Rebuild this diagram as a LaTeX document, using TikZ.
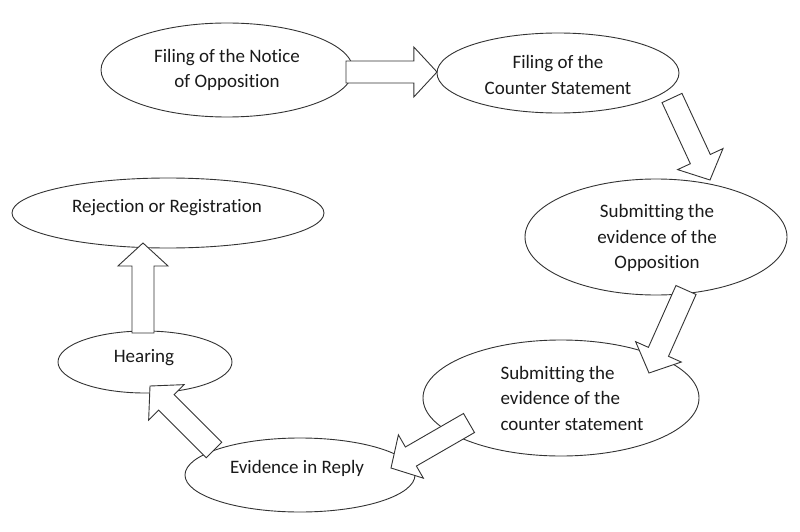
\documentclass[tikz,border=0pt]{standalone}
\usepackage{fontspec}
\setmainfont[Ligatures=NoCommon]{Carlito}
\usetikzlibrary{shapes.geometric,calc}
\definecolor{ink}{HTML}{1A1A1A}
\definecolor{edge}{HTML}{333333}
\tikzset{
  oval/.style={ellipse, draw=edge, line width=0.9pt, fill=white, inner sep=0pt},
  txt/.style={text=ink, font=\fontsize{19}{25.5}\selectfont, align=center, inner sep=0pt},
  blockarr/.style={draw=edge, line width=0.9pt, fill=white, line join=miter},
}
\newcommand\blockarrow[2]{%
  \draw[blockarr] ($(#1)!11pt!90:(#2)$)
    -- ($(#1)!0.745!(#2)!11pt!90:(#2)$)
    -- ($(#1)!0.745!(#2)!25pt!90:(#2)$)
    -- (#2)
    -- ($(#1)!0.745!(#2)!25pt!-90:(#2)$)
    -- ($(#1)!0.745!(#2)!11pt!-90:(#2)$)
    -- ($(#1)!11pt!-90:(#2)$) -- cycle;}
\begin{document}
\begin{tikzpicture}[x=1pt,y=-1pt]
\useasboundingbox[fill=white] (0,0) rectangle (800,532);
% ellipses
\node[oval, minimum width=252pt, minimum height=94pt] (e1) at (227,70) {};
\node[oval, minimum width=242pt, minimum height=80pt] (e2) at (558,73) {};
\node[oval, minimum width=262pt, minimum height=116pt] (e3) at (656,237) {};
\node[oval, minimum width=276pt, minimum height=116pt] (e4) at (561,398) {};
\node[oval, minimum width=230pt, minimum height=74pt] (e5) at (300,475) {};
\node[oval, minimum width=174pt, minimum height=62pt] (e6) at (145,362) {};
\node[oval, minimum width=312pt, minimum height=70pt] (e7) at (168,213) {};
% texts
\node[txt] (t1) at (227,70) {Filing of the Notice\\of Opposition};
\node[txt] (t2) at (558,75) {Filing of the\\Counter Statement};
\node[txt] (t3) at (657,238) {Submitting the\\evidence of the\\Opposition};
\node[txt, align=left] (t4) at (572,398) {Submitting the\\evidence of the\\counter statement};
\node[txt] (t5) at (297,468) {Evidence in Reply};
\node[txt] (t6) at (144,358) {Hearing};
\node[txt] (t7) at (167,208) {Rejection or Registration};
% arrow end points
\coordinate (a1s) at (346,72);  \coordinate (a1e) at (437,72);
\coordinate (a2s) at (672,98);  \coordinate (a2e) at (710,180);
\coordinate (a3s) at (686,290); \coordinate (a3e) at (649,373);
\coordinate (a4s) at (469,423); \coordinate (a4e) at (391,468);
\coordinate (a5s) at (214,450); \coordinate (a5e) at (150,386);
\coordinate (a6s) at (143,333); \coordinate (a6e) at (143,243);
\blockarrow{a1s}{a1e}
\blockarrow{a2s}{a2e}
\blockarrow{a3s}{a3e}
\blockarrow{a4s}{a4e}
\blockarrow{a5s}{a5e}
\blockarrow{a6s}{a6e}
\end{tikzpicture}
\end{document}
